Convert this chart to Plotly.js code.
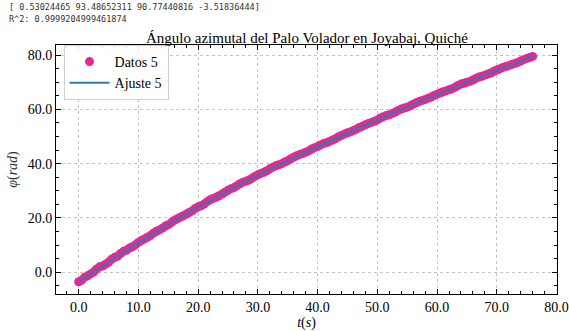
<!DOCTYPE html>
<html>
<head>
<meta charset="utf-8">
<script src="https://cdn.plot.ly/plotly-3.0.1.min.js"></script>
<style>html,body{margin:0;padding:0;background:#fff}#chart{width:569px;height:331px}</style>
</head>
<body>
<div id="chart"></div>
<script>
// Measured data (Datos 5): time (s) and azimuthal angle (rad)
const tDatos = [
 0,0.5,1,1.5,2,2.5,3,3.5,4,4.5,5,5.5,6,6.5,7,7.5,8,8.5,9,9.5,
 10,10.5,11,11.5,12,12.5,13,13.5,14,14.5,15,15.5,16,16.5,17,17.5,18,18.5,19,19.5,
 20,20.5,21,21.5,22,22.5,23,23.5,24,24.5,25,25.5,26,26.5,27,27.5,28,28.5,29,29.5,
 30,30.5,31,31.5,32,32.5,33,33.5,34,34.5,35,35.5,36,36.5,37,37.5,38,38.5,39,39.5,
 40,40.5,41,41.5,42,42.5,43,43.5,44,44.5,45,45.5,46,46.5,47,47.5,48,48.5,49,49.5,
 50,50.5,51,51.5,52,52.5,53,53.5,54,54.5,55,55.5,56,56.5,57,57.5,58,58.5,59,59.5,
 60,60.5,61,61.5,62,62.5,63,63.5,64,64.5,65,65.5,66,66.5,67,67.5,68,68.5,69,69.5,
 70,70.5,71,71.5,72,72.5,73,73.5,74,74.5,75,75.5,76
];
const phiDatos = [
 -3.5,-2.9,-1.8,-1.3,-0.6,0.1,1.2,2.0,2.3,3.0,3.7,4.8,5.5,5.9,6.9,7.7,8.1,8.9,9.4,10.1,
 11.0,11.7,12.3,12.9,13.5,14.4,15.1,15.6,16.2,17.0,17.5,18.3,19.1,19.7,20.3,20.8,21.4,22.0,22.6,23.5,
 24.1,24.5,25.1,26.0,26.7,27.2,27.6,28.2,28.8,29.5,30.2,30.8,31.2,31.9,32.6,33.2,33.5,34.0,34.6,35.3,
 35.9,36.4,36.8,37.4,38.1,38.7,39.2,39.6,40.0,40.6,41.1,41.8,42.4,42.9,43.4,43.7,44.2,44.7,45.4,45.9,
 46.3,46.9,47.4,47.7,48.2,48.7,49.2,49.9,50.4,50.9,51.4,51.7,52.2,52.7,53.3,53.8,54.3,54.8,55.2,55.6,
 56.1,56.8,57.3,57.7,58.0,58.5,59.0,59.6,60.1,60.5,60.8,61.3,61.9,62.4,62.9,63.3,63.6,64.1,64.5,65.1,
 65.6,66.0,66.5,66.8,67.2,67.6,68.1,68.8,69.3,69.6,70.0,70.3,70.8,71.4,71.9,72.2,72.6,73.0,73.4,74.0,
 74.5,74.9,75.4,75.8,76.1,76.5,76.9,77.3,77.8,78.3,78.7,79.1,79.5
];
// Fitted curve (Ajuste 5)
const tAjuste = [0,2,4,6,8,10,12,14,16,18,20,22,24,26,28,30,32,34,36,38,40,42,44,46,48,50,52,54,56,58,60,62,64,66,68,70,72,74,76,76.3];
const phiAjuste = [-3.50,-0.50,2.44,5.32,8.14,10.90,13.64,16.32,18.94,21.50,24.00,26.48,28.90,31.26,33.56,35.80,38.00,40.14,42.24,44.30,46.30,48.30,50.29,52.27,54.24,56.20,58.10,59.98,61.84,63.68,65.50,67.30,69.09,70.87,72.64,74.40,76.12,77.82,79.50,79.75];
const xTicks = [0,10,20,30,40,50,60,70,80];
const yTicks = [0,20,40,60,80];
const paramsText = "[ 0.53024465 93.48652311 90.77440816 -3.51836444]";
const r2Text = "R^2: 0.9999204999461874";

const serif = "Liberation Serif, Times New Roman, serif";
const traces = [
  {x: tDatos, y: phiDatos, type: 'scatter', mode: 'markers', name: 'Datos 5',
   marker: {color: '#e8288c', size: 9, line: {width: 0}}},
  {x: tAjuste, y: phiAjuste, type: 'scatter', mode: 'lines', name: 'Ajuste 5',
   line: {color: '#2b7bba', width: 2}}
];
const axisCommon = {
  showline: true, linecolor: '#000', linewidth: 1, mirror: 'ticks',
  ticks: 'inside', ticklen: 5, tickwidth: 1, tickcolor: '#000',
  showgrid: true, gridcolor: '#c4c4c4', griddash: 'dot', gridwidth: 1,
  zeroline: false, tickformat: '.1f', tickmode: 'array',
  tickfont: {family: serif, size: 14, color: '#000'}
};
const layout = {
  width: 569, height: 331,
  margin: {l: 56, r: 12, t: 45, b: 37},
  paper_bgcolor: '#fff', plot_bgcolor: '#fff',
  font: {family: serif, color: '#000'},
  title: {text: 'Ángulo azimutal del Palo Volador en Joyabaj, Quiché',
    font: {family: serif, size: 15, color: '#000'},
    x: 0.5395, xanchor: 'center', y: 0.885, yanchor: 'middle'},
  xaxis: Object.assign({}, axisCommon, {
    range: [-3.8, 80.08], tickvals: xTicks,
    minor: {ticks: 'inside', dtick: 2, tick0: 0, ticklen: 3, tickcolor: '#000', showgrid: false},
    title: {text: '<i>t</i>(<i>s</i>)', font: {family: serif, size: 14, color: '#000'}, standoff: 6}
  }),
  yaxis: Object.assign({}, axisCommon, {
    range: [-8.0, 83.7], tickvals: yTicks,
    minor: {ticks: 'inside', dtick: 5, tick0: 0, ticklen: 3, tickcolor: '#000', showgrid: false},
    title: {text: '<i>φ</i>(<i>rad</i>)', font: {family: serif, size: 14, color: '#333'}, standoff: 6}
  }),
  showlegend: true,
  legend: {x: 0.015, y: 1.0, xanchor: 'left', yanchor: 'top',
    bgcolor: 'rgba(255,255,255,0.9)', bordercolor: '#d0d0d0', borderwidth: 1,
    font: {family: serif, size: 14, color: '#000'}, tracegroupgap: 2, itemwidth: 40},
  annotations: [
    {text: paramsText, xref: 'paper', yref: 'paper', x: -0.098, y: 1.1526, xanchor: 'left', yanchor: 'middle',
     showarrow: false, font: {family: 'DejaVu Sans Mono, monospace', size: 8.5, color: '#333'}},
    {text: r2Text, xref: 'paper', yref: 'paper', x: -0.098, y: 1.106, xanchor: 'left', yanchor: 'middle',
     showarrow: false, font: {family: 'DejaVu Sans Mono, monospace', size: 8.5, color: '#333'}}
  ]
};
Plotly.newPlot('chart', traces, layout, {displayModeBar: false, staticPlot: true});
</script>
</body>
</html>
